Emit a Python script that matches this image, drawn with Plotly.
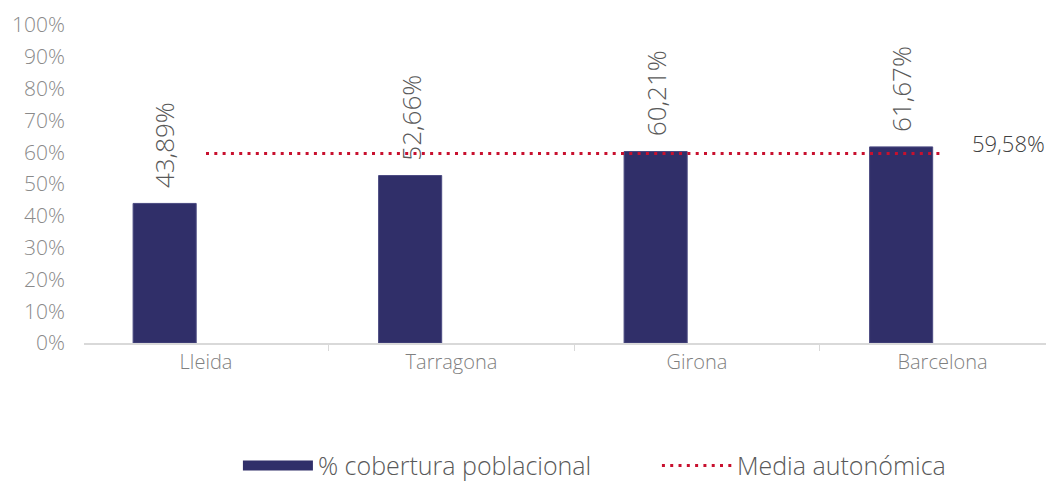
import plotly.graph_objects as go

provincias = ["Lleida", "Tarragona", "Girona", "Barcelona"]
cobertura = [0.4389, 0.5266, 0.6021, 0.6167]
media = 0.5958
media_serie = [media] * len(provincias)

FONT = "Open Sans"
LIGHT = 300
BAR_COLOR = "#302f69"
BAR_OFFSET = -0.297
BAR_WIDTH = 0.257

fig = go.Figure()

fig.add_trace(go.Bar(
    x=provincias,
    y=cobertura,
    name="% cobertura poblacional",
    offset=BAR_OFFSET,
    width=BAR_WIDTH,
    marker=dict(color=BAR_COLOR, line=dict(color="#4b4a82", width=1)),
    showlegend=False,
))

# entrada de leyenda con muestra ancha, como en Excel
fig.add_trace(go.Scatter(
    x=[None],
    y=[None],
    name="% cobertura poblacional",
    mode="lines",
    line=dict(color=BAR_COLOR, width=12),
))

fig.add_trace(go.Scatter(
    x=provincias,
    y=media_serie,
    name="Media autonómica",
    mode="lines",
    line=dict(color="#c8102e", width=3, dash="3px,5.3px"),
))

# etiquetas de datos, giradas, por encima de cada barra
bar_center = BAR_OFFSET + BAR_WIDTH / 2
for i, v in enumerate(cobertura):
    fig.add_annotation(
        x=i + bar_center,
        y=v,
        text=f"{v:.2%}".replace(".", ","),
        textangle=-90,
        yanchor="bottom",
        yshift=13,
        showarrow=False,
        font=dict(family=FONT, size=26, color="#595959", weight=LIGHT),
    )

fig.add_annotation(
    x=len(provincias) - 1,
    y=media,
    text=f"{media:.2%}".replace(".", ","),
    xshift=66,
    yshift=11,
    showarrow=False,
    font=dict(family=FONT, size=22, color="#404040", weight=LIGHT),
)

fig.update_layout(
    width=1038,
    height=483,
    margin=dict(l=76, r=0, t=17, b=148),
    plot_bgcolor="white",
    paper_bgcolor="white",
    font=dict(family=FONT, color="#7f7f7f", weight=LIGHT),
    showlegend=True,
    legend=dict(
        orientation="h",
        xref="container",
        yref="container",
        x=0.2215,
        xanchor="left",
        y=0.1,
        yanchor="top",
        font=dict(size=25, color="#595959", weight=LIGHT),
        itemwidth=70,
        entrywidth=334,
    ),
)

fig.update_xaxes(
    range=[-0.497, 3.4216],
    automargin=False,
    showline=True,
    linecolor="#d9d9d9",
    linewidth=1.5,
    ticks="outside",
    tickson="boundaries",
    ticklen=6,
    tickcolor="#d9d9d9",
    tickfont=dict(size=20, color="#7f7f7f", weight=LIGHT),
    showgrid=False,
)

fig.update_yaxes(
    range=[0, 1],
    automargin=False,
    dtick=0.1,
    tickformat=".0%",
    showgrid=False,
    zeroline=False,
    ticklabelstandoff=18,
    tickfont=dict(size=21, color="#8a8a8a", weight=LIGHT),
)

fig.write_html("out.html")
